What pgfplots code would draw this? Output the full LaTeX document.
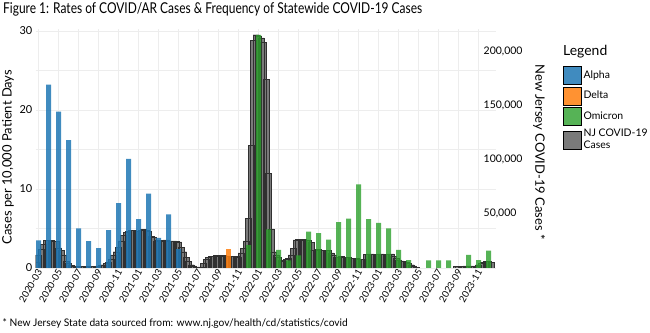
\documentclass[border=0pt]{standalone}
\usepackage{pgfplots}
\pgfplotsset{compat=1.18}
\usepackage{pgfplotstable}
\usepackage{graphicx}
\usepackage{fontspec}
\setmainfont{Lato}
\definecolor{alphaC}{HTML}{1F77B4}
\definecolor{deltaC}{HTML}{FF7F0E}
\definecolor{omiC}{HTML}{2CA02C}
\definecolor{njC}{HTML}{7A7A7A}
\definecolor{njL}{HTML}{303030}
\definecolor{gridC}{HTML}{EDEDED}

\pgfplotstableread{
m c
-0.25 5000
0 12000
0.25 17000
0.5 22000
0.75 25500
1 25800
1.25 25500
1.5 25000
1.75 24500
2 18500
2.25 16000
2.5 12000
2.75 6000
3 4000
3.25 2500
3.5 2000
3.75 1500
4 1500
4.25 1500
4.5 1500
4.75 1500
5 1500
5.25 1500
5.5 1500
5.75 1500
6 2000
6.25 2500
6.5 3000
6.75 4000
7 5000
7.25 8000
7.5 12000
7.75 15000
8 19000
8.25 25000
8.5 30000
8.75 33000
9 34000
9.25 35000
9.5 34500
9.75 33500
10 34000
10.25 35000
10.5 35500
10.75 35000
11 34000
11.25 29000
11.5 28000
11.75 25000
12 25500
12.25 25000
12.5 25500
12.75 26000
13 25000
13.25 24500
13.5 25000
13.75 24500
14 24000
14.25 19000
14.5 15000
14.75 10000
15 6000
15.25 3000
15.5 2000
15.75 1000
16 1000
16.25 1000
16.5 4000
16.75 8000
17 10000
17.25 11000
17.5 11000
17.75 11500
18 11000
18.25 11000
18.5 11500
18.75 11000
19 11000
19.25 10500
19.5 11000
19.75 11000
20 10000
20.25 14000
20.5 18000
20.75 25000
21 46000
21.25 113000
21.5 210000
21.75 215000
22 214000
22.25 212000
22.5 208000
22.75 174000
23 87000
23.25 36000
23.5 15000
23.75 12000
24 10000
24.25 7000
24.5 6500
24.75 8000
25 9000
25.25 12000
25.5 18000
25.75 26000
26 26500
26.25 26000
26.5 26500
26.75 26000
27 25500
27.25 23500
27.5 16500
27.75 16500
28 17000
28.25 16500
28.5 16500
28.75 16000
29 16500
29.25 14000
29.5 12000
29.75 10000
30 10000
30.25 10500
30.5 10000
30.75 10000
31 10000
31.25 9000
31.5 9000
31.75 9000
32 8000
32.25 8000
32.5 8000
32.75 12500
33 12500
33.25 13000
33.5 12500
33.75 12500
34 12500
34.25 13000
34.5 12500
34.75 12500
35 12500
35.25 13000
35.5 11000
35.75 9000
36 7500
36.25 6500
36.5 6000
36.75 5000
37 4500
37.25 3000
37.5 2000
37.75 500
41.75 1500
42 1500
42.25 1800
42.5 1800
42.75 2000
43 2000
43.25 2000
43.5 2000
43.75 2000
44 3000
44.25 4000
44.5 5000
44.75 6000
45 6000
45.25 5000
}\njtable

\pgfplotsset{
  base/.style={
    at={(35.5bp,65bp)}, anchor=south west, scale only axis,
    width=460bp, height=238.6bp,
    xmin=-0.3, xmax=45.7, clip=true,
    /pgf/number format/assume math mode=true,
  }
}

\begin{document}
\begin{tikzpicture}
\useasboundingbox (0,0) rectangle (650bp,333bp);

% Axis A: grid, x ticks, left axis
\begin{axis}[base, ymin=0, ymax=30.2,
  axis line style={draw=none}, major tick length=0pt, minor tick length=0pt,
  xtick={0,2,...,44},
  xticklabels={2020-03,2020-05,2020-07,2020-09,2020-11,2021-01,2021-03,2021-05,2021-07,2021-09,2021-11,2022-01,2022-03,2022-05,2022-07,2022-09,2022-11,2023-01,2023-03,2023-05,2023-07,2023-09,2023-11},
  xmajorgrids, ymajorgrids, yminorgrids,
  ytick={0,10,20,30}, minor ytick={5,15,25},
  grid style={draw=gridC, line width=0.8bp},
  minor grid style={draw=gridC, line width=0.8bp},
  xticklabel style={rotate=60, anchor=east, font=\fontsize{9.5}{9.5}\selectfont, inner sep=1bp, yshift=-2bp},
  yticklabel style={font=\fontsize{11}{11}\selectfont, inner sep=1bp, xshift=-2bp},
  ylabel={Cases per 10,000 Patient Days},
  ylabel style={at={(axis description cs:-0.0598,0.465)}, anchor=center, font=\fontsize{13}{13}\selectfont},
]
\addplot[draw=none] coordinates {(0,0)};
\end{axis}

% Axis B: NJ COVID-19 cases (right axis)
\begin{axis}[base, ymin=0, ymax=219900,
  hide x axis, axis y line*=right,
  axis line style={draw=none}, major tick length=0pt,
  ytick={50000,100000,150000,200000},
  scaled y ticks=false,
  yticklabel={\pgfmathprintnumber[fixed,precision=0,1000 sep={,},assume math mode=true]{\tick}},
  yticklabel style={font=\fontsize{10.5}{10.5}\selectfont, inner sep=0pt, xshift=-12bp},
  ylabel={New Jersey COVID-19 Cases *},
  ylabel style={at={(axis description cs:1.0946,0.486)}, anchor=center, rotate=180, font=\fontsize{13}{13}\selectfont},
]
\addplot[ybar, bar width=0.6, bar shift=0pt, fill=njC, draw=njL, line width=0.35bp] table[x=m,y=c]{\njtable};
\end{axis}

% Axis C: rates
\begin{axis}[base, ymin=0, ymax=30.2, hide axis,
  legend image code/.code={\fill[#1] (0bp,-9bp) rectangle (18bp,9bp);},
  legend cell align=left,
  legend style={at={(axis description cs:1.1467,0.8466)}, anchor=north west, draw=none, fill=none, inner sep=0pt,
    row sep=2bp, font=\fontsize{10.5}{12}\selectfont, cells={align=left},
    /tikz/every even column/.append style={column sep=7bp}},
]
\addplot[ybar, bar width=0.5, bar shift=0pt, fill=alphaC, fill opacity=0.85, draw=none, forget plot] coordinates {
(0,3.5) (1,23.2) (2,19.8) (3,16.2) (4,5.0) (5,3.4) (6,2.5) (7,4.8) (8,8.2) (9,13.8) (10,6.2) (11,9.4) (12,3.8) (13,6.8) (14,2.4)};
\addplot[ybar, bar width=0.5, bar shift=0pt, fill=deltaC, fill opacity=0.85, draw=none, forget plot] coordinates {
(19,2.45)};
\addplot[ybar, bar width=0.5, bar shift=0pt, fill=omiC, fill opacity=0.8, draw=none, forget plot] coordinates {
(21,2.9) (22,29.5) (23,4.9) (24,2.3) (25,0.95) (26,1.6) (27,4.6) (28,4.4) (29,3.6) (30,5.8) (31,6.25) (32,10.6) (33,6.2) (34,5.7) (35,5.0) (36,2.3) (37,1.0) (39,0.95) (40,0.95) (41,0.95) (43,1.65) (44,1.0) (45,2.2)};
\addlegendimage{fill=alphaC, fill opacity=0.85}
\addlegendentry{Alpha}
\addlegendimage{fill=deltaC, fill opacity=0.85}
\addlegendentry{Delta}
\addlegendimage{fill=omiC, fill opacity=0.8}
\addlegendentry{Omicron}
\addlegendimage{fill=njC}
\addlegendentry{NJ COVID-19\\Cases}
\end{axis}

\node[anchor=west, inner sep=0pt] at (3bp,324bp) {\resizebox{419bp}{\height}{\fontsize{15}{18}\selectfont Figure 1: Rates of COVID/AR Cases \& Frequency of Statewide COVID-19 Cases}};
\node[anchor=west, inner sep=0pt] at (563bp,281bp) {\fontsize{14}{16}\selectfont Legend};
\node[anchor=west, inner sep=0pt] at (2.5bp,9bp) {\resizebox{345bp}{\height}{\fontsize{10.5}{12}\selectfont * New Jersey State data sourced from: www.nj.gov/health/cd/statistics/covid}};
\end{tikzpicture}
\end{document}
